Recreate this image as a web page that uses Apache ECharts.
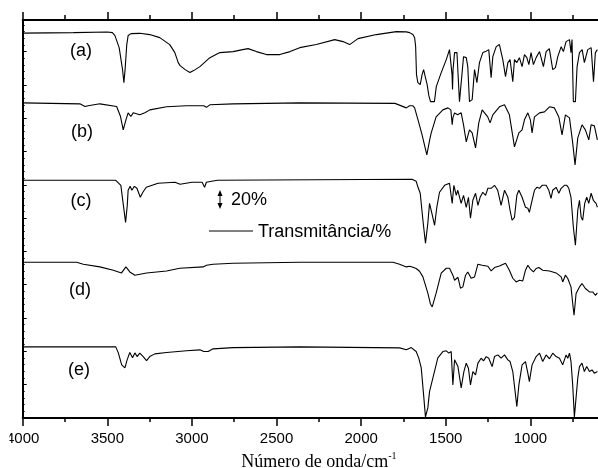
<!DOCTYPE html>
<html><head><meta charset="utf-8">
<script src="https://cdn.jsdelivr.net/npm/echarts@6/dist/echarts.min.js"></script>
<style>html,body{margin:0;padding:0;background:#fff}#c{width:598px;height:468px}</style>
</head><body><div id="c"></div>
<script>
// x ticks (wavenumber, cm^-1)
const xMin = 500, xMax = 4000, xInterval = 500;
const traceLabels = ['(a)', '(b)', '(c)', '(d)', '(e)'];
// vertical offsets of each spectrum (in % transmittance units)
const offsets = [328, 250, 164, 73, -21];

// [wavenumber, transmittance %]
const traceA = [[4000,99.4],[3700,100],[3500,100.6],[3470,100],[3455,96.7],[3430,83.3],[3410,58.9],[3402,44.4],[3395,58.9],[3385,86.7],[3377,96.7],[3360,98.9],[3308,99.2],[3250,97.8],[3190,94.4],[3131,86.7],[3101,77.8],[3081,66.7],[3070,63.3],[3061,62.2],[3040,58.9],[3012,55.6],[2990,57.8],[2953,62.2],[2894,72.2],[2835,77.8],[2757,78.9],[2700,81.1],[2668,82.2],[2619,78.9],[2560,75.6],[2481,75.6],[2420,78.9],[2363,83.3],[2265,86.7],[2156,92.2],[2107,90],[2068,86.7],[2019,93.3],[1910,97.8],[1792,101.1],[1733,100.8],[1714,100],[1694,97.8],[1684,94.4],[1678,84.4],[1673,53.3],[1665,44.4],[1651,42.2],[1640,53.3],[1631,58.9],[1620,50],[1610,42.2],[1600,30],[1590,23.3],[1567,23.3],[1556,40],[1527,55.6],[1497,70],[1478,81.1],[1468,83.3],[1463,53.3],[1460,36.7],[1457,58.9],[1448,77.8],[1434,77.8],[1419,23.3],[1409,23.3],[1395,73.3],[1379,72.2],[1370,62.2],[1360,23.3],[1344,25.6],[1330,58.9],[1316,44.4],[1301,66.7],[1281,77.8],[1265,78.9],[1257,77.8],[1246,81.1],[1232,50],[1222,73.3],[1202,84.4],[1183,86.7],[1163,70],[1147,51.1],[1133,66.7],[1120,70],[1104,45.6],[1094,70],[1080,66.7],[1065,72.2],[1049,62.2],[1035,75.6],[1021,72.2],[1009,64.4],[996,77.8],[982,64.4],[966,72.2],[946,78.9],[923,62.2],[907,78.9],[888,82.2],[868,58.9],[852,61.1],[838,73.3],[818,84.4],[805,78.9],[789,90],[769,92.2],[760,77.8],[754,92.2],[746,23.3],[734,23.3],[724,62.2],[710,77.8],[694,81.1],[681,66.7],[661,81.1],[641,83.3],[627,45.6],[616,77.8],[604,81.1]];

const traceB = [[4000,100],[3662,98.9],[3632,95.9],[3613,96.7],[3544,98.9],[3445,95.9],[3422,84.8],[3406,70],[3390,81.1],[3377,88.9],[3361,84.8],[3347,88.9],[3308,86.7],[3278,88.9],[3249,92.2],[3150,95.6],[3032,96.7],[2930,96.7],[2914,95],[2894,97.8],[2757,98.9],[2363,100],[1800,99.4],[1733,94.4],[1714,96.7],[1694,96.7],[1684,94.4],[1664,81.1],[1640,64.4],[1612,42.2],[1595,58.9],[1586,66.7],[1557,84.4],[1517,92.2],[1487,94.4],[1470,92.2],[1462,75.6],[1458,83.3],[1448,88.9],[1430,86.7],[1409,88.9],[1395,75.6],[1379,56.7],[1360,70],[1344,66.7],[1324,50],[1305,77.8],[1285,92.2],[1252,84.4],[1238,77.8],[1222,86.7],[1183,95.6],[1153,97.8],[1124,86.7],[1094,51.1],[1068,66.7],[1049,70],[1035,81.1],[1015,88.9],[1000,81.1],[990,66.7],[976,84.4],[946,88.9],[917,90],[887,95.6],[858,94.4],[832,84.4],[813,64.4],[793,86.7],[769,83.3],[750,55.6],[736,31.1],[720,61.1],[695,75.6],[675,70],[655,58.9],[641,75.6],[622,74.4],[604,58.9]];

const traceC = [[4000,100],[3450,100],[3420,94.4],[3405,72.2],[3392,53.3],[3382,72.2],[3377,88.9],[3365,93.3],[3355,88.9],[3340,93.3],[3325,91.1],[3305,81.1],[3290,86.7],[3270,92.2],[3200,96.7],[3100,97.8],[3070,95.6],[3000,97.8],[2940,97.8],[2925,92.2],[2915,97.8],[2850,100],[1700,101.1],[1675,98.9],[1664,92.2],[1651,85.6],[1635,55.6],[1620,30],[1606,52.2],[1596,74.4],[1582,63.3],[1566,50],[1553,70],[1537,86.7],[1507,94.4],[1478,96.7],[1462,74.4],[1452,94.4],[1438,83.3],[1429,88.9],[1409,74.4],[1395,83.3],[1379,70],[1366,81.1],[1354,57.8],[1340,77.8],[1324,85.6],[1310,72.2],[1297,81.1],[1281,86.7],[1265,83.3],[1251,91.1],[1232,91.1],[1212,94.4],[1193,88.9],[1173,72.2],[1153,88.9],[1133,81.1],[1120,66.7],[1108,55.6],[1094,58.9],[1080,83.3],[1068,88.9],[1049,81.1],[1029,70],[1015,68.9],[1006,64.4],[990,77.8],[976,88.9],[962,92.2],[946,91.1],[931,94.4],[907,94.4],[891,88.9],[878,80],[868,88.9],[848,92.2],[832,85.6],[818,91.1],[799,94.4],[785,94.4],[773,91.1],[760,81.1],[746,47.8],[734,27.8],[720,66.7],[710,77.8],[700,58.9],[691,55.6],[679,74.4],[667,81.1],[655,74.4],[641,85.6],[628,77.8],[612,74.4],[604,70]];

const traceD = [[4000,100],[3681,100],[3642,97.8],[3544,94.8],[3465,91.1],[3416,88.1],[3390,94.8],[3367,89.2],[3337,85.6],[3268,88.1],[3150,90.3],[3072,93.3],[2934,94.8],[2914,96.7],[2904,95.6],[2875,97.8],[2757,98.9],[2363,100],[1812,100],[1773,97.8],[1733,94.8],[1714,95.6],[1694,94.4],[1675,93],[1655,90],[1635,83.7],[1606,65.6],[1590,53.3],[1580,50.3],[1557,65.6],[1527,87.8],[1497,93.3],[1478,93.3],[1458,85.6],[1448,80],[1438,82.2],[1428,83.3],[1413,71.1],[1399,72.6],[1383,85.6],[1370,89.2],[1350,82.2],[1330,83.7],[1310,97.8],[1285,96.7],[1251,95.6],[1232,90.3],[1212,94.1],[1183,95.9],[1147,98.9],[1124,91.1],[1104,82.2],[1084,78.1],[1064,80],[1045,79.2],[1029,91.1],[1015,96.7],[1002,93],[982,89.2],[966,93],[950,94.1],[927,91.1],[887,90.3],[848,88.1],[818,83.7],[809,78.1],[793,85.6],[779,81.9],[760,72.6],[750,54.4],[742,41.1],[730,65.2],[710,72.6],[695,76.3],[675,70.8],[651,67],[632,67],[616,63.3],[604,65.9]];

const traceE = [[4000,100],[3450,100],[3435,93.3],[3415,80],[3396,76.7],[3383,85.6],[3367,93.7],[3351,87.8],[3337,93.3],[3324,89.2],[3308,93],[3288,89.2],[3268,84.8],[3249,89.2],[3219,92.2],[3150,93.7],[3032,95.6],[2953,96.7],[2930,94.8],[2904,94.8],[2875,97.8],[2757,99.2],[2363,100],[1773,98.9],[1733,96.7],[1704,99.2],[1694,98.9],[1675,94.8],[1660,87.8],[1645,76.7],[1631,46.7],[1620,22.2],[1606,32.2],[1596,50.3],[1576,65.6],[1547,87.8],[1517,94.8],[1497,95.6],[1482,93],[1468,94.8],[1458,57.8],[1448,85.6],[1428,78.1],[1409,54.4],[1393,72.6],[1379,81.9],[1366,76.3],[1354,57.8],[1340,72.6],[1324,68.9],[1310,81.9],[1291,87.4],[1277,84.4],[1261,89.2],[1246,87.4],[1226,78.1],[1212,89.2],[1192,91.1],[1173,87.4],[1153,91.1],[1133,85.6],[1120,83.7],[1104,72.6],[1088,46.7],[1080,33.7],[1068,57.8],[1049,80],[1029,83.7],[1015,70.8],[1006,61.4],[990,80],[966,89.2],[946,93],[927,83.7],[907,91.1],[887,86.7],[868,93],[848,89.2],[828,87.4],[809,80],[789,91.1],[779,87.4],[769,93],[760,83.7],[750,57.8],[740,22.2],[730,22.2],[720,65.2],[710,78.1],[695,81.9],[681,72.6],[667,78.1],[651,72.6],[636,74.4],[622,70.8],[604,72.6]];

const traces = [traceA, traceB, traceC, traceD, traceE];
const scaleBarText = '20%';
const legendText = 'Transmitância/%';

const chart = echarts.init(document.getElementById('c'), null, {renderer: 'canvas'});
const sans = '"Liberation Sans", Arial, sans-serif';
const axisCommon = {
  type: 'value', min: xMin, max: xMax, interval: xInterval, inverse: true,
  axisLine: {show: true, lineStyle: {color: '#000', width: 2}},
  axisTick: {show: true, inside: false, length: 8, lineStyle: {color: '#000', width: 1.5}},
  minorTick: {show: true, splitNumber: 2, length: 4, lineStyle: {color: '#000', width: 1.5}},
  splitLine: {show: false}
};
const option = {
  animation: false,
  backgroundColor: '#fff',
  grid: {left: 22.7, right: -17, top: 20, bottom: 50, outerBoundsMode: 'none', containLabel: false},
  xAxis: [
    Object.assign({}, axisCommon, {
      position: 'bottom',
      axisLabel: {show: true, color: '#000', fontFamily: sans, fontSize: 15, margin: 13, showMinLabel: true, showMaxLabel: true, hideOverlap: false, formatter: v => String(v)},
      name: '{a|Número de onda/cm}{s|-1}',
      nameLocation: 'middle', nameGap: 33,
      nameTextStyle: {
        color: '#000',
        rich: {
          a: {fontFamily: '"Liberation Serif", "Times New Roman", serif', fontSize: 18, color: '#000'},
          s: {fontFamily: '"Liberation Serif", "Times New Roman", serif', fontSize: 10, color: '#000', padding: [0, 0, 12, 0]}
        }
      }
    }),
    Object.assign({}, axisCommon, {
      position: 'top',
      axisLabel: {show: false},
      minorTick: {show: true, splitNumber: 2, length: 5, lineStyle: {color: '#000', width: 1.5}}
    })
  ],
  yAxis: {
    type: 'value', min: 0, max: 442, interval: 37,
    axisLine: {show: true, lineStyle: {color: '#000', width: 2}},
    axisTick: {show: true, inside: true, length: 4, lineStyle: {color: '#000', width: 1}},
    minorTick: {show: true, splitNumber: 5, length: 2, lineStyle: {color: '#000', width: 1}},
    axisLabel: {show: false},
    splitLine: {show: false}
  },
  series: traces.map((t, i) => ({
    type: 'line', name: traceLabels[i],
    data: t.map(p => [p[0], p[1] + offsets[i]]),
    showSymbol: false, symbol: 'none', clip: true,
    lineStyle: {color: '#000', width: 1.1}
  })),
  graphic: [
    {type: 'text', style: {text: traceLabels[0], x: 81, y: 51, font: '18px ' + sans, textAlign: 'center', textVerticalAlign: 'middle', align: 'center', verticalAlign: 'middle', fill: '#000'}},
    {type: 'text', style: {text: traceLabels[1], x: 82, y: 132, font: '18px ' + sans, textAlign: 'center', textVerticalAlign: 'middle', align: 'center', verticalAlign: 'middle', fill: '#000'}},
    {type: 'text', style: {text: traceLabels[2], x: 81, y: 201, font: '18px ' + sans, textAlign: 'center', textVerticalAlign: 'middle', align: 'center', verticalAlign: 'middle', fill: '#000'}},
    {type: 'text', style: {text: traceLabels[3], x: 80, y: 290, font: '18px ' + sans, textAlign: 'center', textVerticalAlign: 'middle', align: 'center', verticalAlign: 'middle', fill: '#000'}},
    {type: 'text', style: {text: traceLabels[4], x: 79, y: 370, font: '18px ' + sans, textAlign: 'center', textVerticalAlign: 'middle', align: 'center', verticalAlign: 'middle', fill: '#000'}},
    {type: 'line', shape: {x1: 220, y1: 192, x2: 220, y2: 207}, style: {stroke: '#000', lineWidth: 1}},
    {type: 'polygon', shape: {points: [[217.5, 196], [220, 190], [222.5, 196]]}, style: {fill: '#000'}},
    {type: 'polygon', shape: {points: [[217.5, 203], [220, 209], [222.5, 203]]}, style: {fill: '#000'}},
    {type: 'text', style: {text: scaleBarText, x: 231, y: 200, font: '18px ' + sans, textAlign: 'left', textVerticalAlign: 'middle', align: 'left', verticalAlign: 'middle', fill: '#000'}},
    {type: 'line', shape: {x1: 209, y1: 231, x2: 253, y2: 231}, style: {stroke: '#000', lineWidth: 1}},
    {type: 'text', style: {text: legendText, x: 258, y: 232, font: '18px ' + sans, textAlign: 'left', textVerticalAlign: 'middle', align: 'left', verticalAlign: 'middle', fill: '#000'}},
    {type: 'rect', shape: {x: 0, y: 428, width: 9.5, height: 22}, style: {fill: '#fff'}, z: 100}
  ]
};
chart.setOption(option);
</script>
</body></html>
